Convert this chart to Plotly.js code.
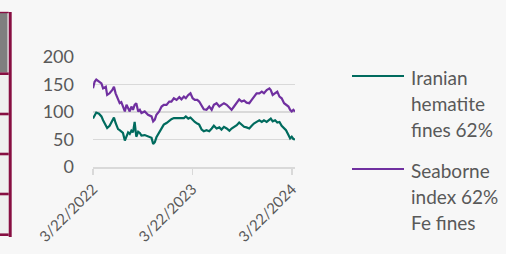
<!DOCTYPE html>
<html>
<head>
<meta charset="utf-8">
<script src="https://cdn.plot.ly/plotly-3.0.1.min.js"></script>
<style>
  html, body { margin: 0; padding: 0; background: #f7f7f7; }
  #chart { width: 506px; height: 254px; }
</style>
</head>
<body>
<div id="chart"></div>
<script>
const dates = ['2022-03-22','2022-03-28','2022-04-03','2022-04-13','2022-04-22','2022-04-28','2022-05-08','2022-05-13','2022-05-22','2022-06-01',
  '2022-06-07','2022-06-13','2022-06-22','2022-06-28','2022-07-04','2022-07-10','2022-07-17','2022-07-23','2022-07-29','2022-08-04',
  '2022-08-10','2022-08-16','2022-08-22','2022-08-28','2022-09-04','2022-09-10','2022-09-16','2022-09-28','2022-10-10','2022-10-23',
  '2022-10-29','2022-11-04','2022-11-10','2022-11-20','2022-11-29','2022-12-07','2022-12-17','2022-12-27','2023-01-04','2023-01-13',
  '2023-01-23','2023-02-02','2023-02-10','2023-02-19','2023-02-26','2023-03-07','2023-03-15','2023-03-23','2023-03-31','2023-04-09',
  '2023-04-16','2023-04-25','2023-05-03','2023-05-13','2023-05-23','2023-06-01','2023-06-09','2023-06-19','2023-06-29','2023-07-07',
  '2023-07-16','2023-07-26','2023-08-05','2023-08-13','2023-08-22','2023-09-01','2023-09-10','2023-09-19','2023-09-28','2023-10-07',
  '2023-10-17','2023-10-26','2023-11-03','2023-11-13','2023-11-23','2023-12-02','2023-12-10','2023-12-20','2023-12-30','2024-01-04',
  '2024-01-11','2024-01-20','2024-01-28','2024-02-05','2024-02-13','2024-02-22','2024-02-29','2024-03-09','2024-03-15','2024-03-21',
  '2024-03-27','2024-04-02'];

const iranianHematite = [88,95,99,97,92,85,76,71,75,84,
  90,80,69,67,65,62,48,55,63,60,
  66,63,82,55,64,62,57,58,55,53,
  42,45,54,63,71,77,80,84,87,89,
  89,90,90,89,92,88,90,85,82,79,
  77,68,65,67,65,70,75,70,72,68,
  73,70,66,70,73,76,81,76,73,72,
  70,75,79,82,85,82,85,82,85,88,
  83,85,81,82,75,70,67,58,52,55,
  51,50];

const seaborneIndex = [143,155,159,155,152,143,146,131,134,140,
  146,134,122,116,118,110,101,113,107,101,
  110,104,113,116,101,104,98,101,95,92,
  83,86,95,101,110,113,113,119,119,125,
  122,127,123,128,125,131,134,125,122,122,
  119,110,105,104,110,104,113,116,110,113,
  116,113,107,104,110,116,123,119,121,117,
  116,122,128,134,134,137,134,140,143,140,
  131,134,137,128,125,116,113,110,104,101,
  104,101];

const seriesNames = [['Iranian','hematite','fines 62%'], ['Seaborne','index 62%','Fe fines']];
const seriesColors = ['#006b5e', '#7030a0'];
const xTickVals = ['2022-03-22','2023-03-22','2024-03-22'];
const xTickText = ['3/22/2022','3/22/2023','3/22/2024'];
const yTickVals = [0,50,100,150,200];

// pixel -> paper helpers (plot area: x 93..295, y 57..167)
const PL = 93, PW = 202, PT = 57, PH = 110;
const px = x => (x - PL) / PW;
const py = y => 1 - (y - PT) / PH;

const traces = [
  {x: dates, y: iranianHematite, name: seriesNames[0].join(' '), type: 'scatter', mode: 'lines',
   line: {color: seriesColors[0], width: 2.2}, showlegend: false},
  {x: dates, y: seaborneIndex, name: seriesNames[1].join(' '), type: 'scatter', mode: 'lines',
   line: {color: seriesColors[1], width: 2.2}, showlegend: false}
];

const shapes = [];
const annotations = [];
// legend (lines + text)
const legendLineY = [76, 169];
const legendTextY = [[77, 103.5, 129.5], [170, 196.5, 222.5]];
for (let i = 0; i < 2; i++) {
  shapes.push({type: 'line', xref: 'paper', yref: 'paper',
    x0: px(352), x1: px(404), y0: py(legendLineY[i]), y1: py(legendLineY[i]),
    line: {color: seriesColors[i], width: 2}});
  seriesNames[i].forEach((t, j) => {
    annotations.push({xref: 'paper', yref: 'paper', x: px(409), y: py(legendTextY[i][j]),
      xanchor: 'left', yanchor: 'middle', text: t, showarrow: false,
      font: {family: 'Lato, Carlito, sans-serif', size: 19, color: '#595959'}});
  });
}
// left edge decoration (cropped neighbour panel)
shapes.push({type: 'rect', xref: 'paper', yref: 'paper', x0: px(0), x1: px(8), y0: py(236), y1: py(73),
  fillcolor: '#efefef', line: {width: 0}});
shapes.push({type: 'rect', xref: 'paper', yref: 'paper', x0: px(0), x1: px(7.5), y0: py(72.5), y1: py(12.5),
  fillcolor: '#7f7f7f', line: {width: 0}});
shapes.push({type: 'rect', xref: 'paper', yref: 'paper', x0: px(8.7), x1: px(11.7), y0: py(237), y1: py(12),
  fillcolor: '#870f42', line: {width: 0}});
[12.5, 73.7, 114, 154, 194, 234.7].forEach((yy, k) => {
  const h = k === 0 ? 0.7 : 1.3;
  shapes.push({type: 'rect', xref: 'paper', yref: 'paper', x0: px(0), x1: px(8.7), y0: py(yy + h), y1: py(yy - h),
    fillcolor: '#870f42', line: {width: 0}});
});

const layout = {
  width: 506, height: 254,
  margin: {l: PL, r: 506 - PL - PW, t: PT, b: 254 - PT - PH, pad: 0},
  paper_bgcolor: '#f7f7f7', plot_bgcolor: '#f7f7f7',
  showlegend: false,
  font: {family: 'Lato, Carlito, sans-serif', color: '#595959'},
  xaxis: {
    type: 'date', range: ['2022-03-22', '2024-04-02'],
    tickmode: 'array', tickvals: xTickVals, ticktext: xTickText, tickangle: -45,
    tickfont: {size: 15, color: '#595959'},
    showgrid: false, zeroline: false,
    showline: true, linecolor: '#d9d9d9', linewidth: 1.5,
    ticks: 'outside', ticklen: 6, tickcolor: '#d9d9d9', tickwidth: 1.5,
    ticklabelstandoff: 0
  },
  yaxis: {
    range: [0, 200], tickmode: 'array', tickvals: yTickVals,
    tickfont: {size: 18, color: '#595959'},
    showgrid: true, gridcolor: '#d9d9d9', gridwidth: 1.5,
    zeroline: false, showline: false, ticks: '',
    ticklabelstandoff: 18
  },
  shapes: shapes,
  annotations: annotations
};

Plotly.newPlot('chart', traces, layout, {staticPlot: true, displayModeBar: false});
</script>
</body>
</html>
